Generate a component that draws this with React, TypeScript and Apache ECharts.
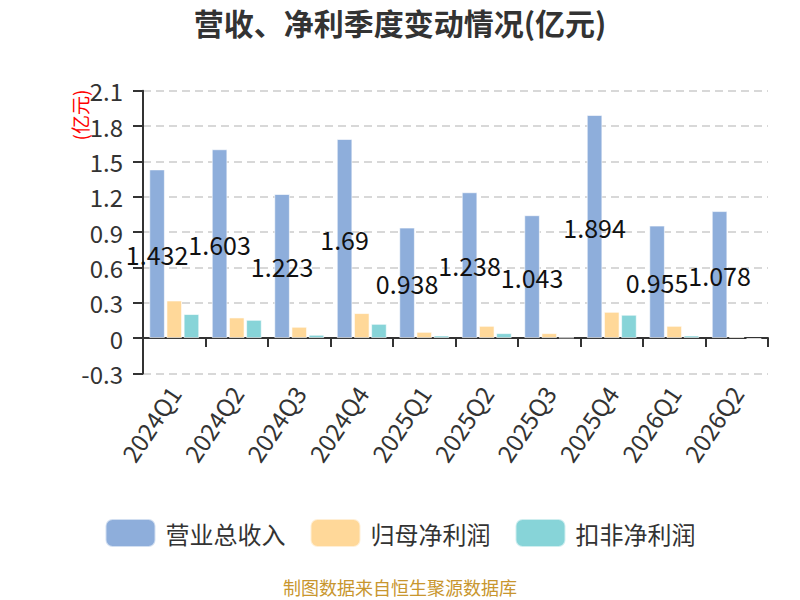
import React, { useEffect, useRef } from "react";
import * as echarts from "echarts";

const categories = ["2024Q1", "2024Q2", "2024Q3", "2024Q4", "2025Q1", "2025Q2", "2025Q3", "2025Q4", "2026Q1", "2026Q2"];
const revenue = [1.432, 1.603, 1.223, 1.69, 0.938, 1.238, 1.043, 1.894, 0.955, 1.078];
const netProfit = [0.319, 0.175, 0.096, 0.212, 0.053, 0.104, 0.042, 0.223, 0.104, 0.011];
const deductedProfit = [0.204, 0.155, 0.028, 0.121, 0.022, 0.042, 0.005, 0.198, 0.022, -0.008];
const seriesNames = ["营业总收入", "归母净利润", "扣非净利润"];

const FONT = "'Noto Sans CJK SC', 'Noto Sans', sans-serif";

export default function App() {
  const ref = useRef<HTMLDivElement>(null);
  useEffect(() => {
    if (!ref.current) return;
    const chart = echarts.init(ref.current, undefined, { renderer: "svg" });
    const barStyle = (color: string) => ({
      color,
      borderColor: "rgba(255,255,255,0.6)",
      borderWidth: 1,
    });
    chart.setOption({
      animation: false,
      backgroundColor: "#fff",
      textStyle: { fontFamily: FONT },
      title: {
        text: "营收、净利季度变动情况(亿元)",
        left: "center",
        top: 5,
        padding: 2,
        textStyle: { fontSize: 30, fontWeight: "bold", color: "#333", fontFamily: FONT },
      },
      legend: {
        data: seriesNames,
        left: "center",
        top: 513,
        itemWidth: 50,
        itemHeight: 28,
        itemGap: 24,
        icon: "roundRect",
        textStyle: { fontSize: 24, color: "#333", fontFamily: FONT, padding: [0, 0, 0, 5] },
      },
      grid: { left: 143, right: 32, top: 90.7, bottom: 226.6, containLabel: false },
      xAxis: {
        type: "category",
        data: categories,
        axisLine: { onZero: true, lineStyle: { color: "#333", width: 2 } },
        axisTick: { show: true, length: 9, lineStyle: { color: "#333", width: 2 } },
        axisLabel: { rotate: 56, margin: 15, fontSize: 24, color: "#333", fontFamily: FONT },
      },
      yAxis: {
        type: "value",
        min: -0.3,
        max: 2.1,
        interval: 0.3,
        axisLine: { show: true, lineStyle: { color: "#333", width: 2 } },
        axisTick: { show: true, length: 10, lineStyle: { color: "#333", width: 2 } },
        axisLabel: { fontSize: 24, color: "#333", margin: 20, fontFamily: FONT },
        splitLine: { show: true, lineStyle: { color: "#ccc", width: 1.5, type: [8, 5] } },
      },
      graphic: [
        {
          type: "text",
          x: 79,
          y: 115,
          rotation: Math.PI / 2,
          style: {
            text: "(亿元)",
            fill: "#ff0000",
            fontSize: 19,
            fontFamily: FONT,
            textAlign: "center",
            textVerticalAlign: "middle",
          },
        },
      ],
      series: [
        {
          name: seriesNames[0],
          type: "bar",
          data: revenue,
          barCategoryGap: "20%",
          barGap: "10%",
          itemStyle: barStyle("#8eaedb"),
          label: {
            show: true,
            position: "inside",
            fontSize: 25,
            color: "#111",
            fontFamily: FONT,
          },
        },
        {
          name: seriesNames[1],
          type: "bar",
          data: netProfit,
          barCategoryGap: "20%",
          barGap: "10%",
          itemStyle: barStyle("#ffd899"),
        },
        {
          name: seriesNames[2],
          type: "bar",
          data: deductedProfit,
          barCategoryGap: "20%",
          barGap: "10%",
          itemStyle: barStyle("#87d4d8"),
        },
      ],
    });
    return () => chart.dispose();
  }, []);
  return (
    <div style={{ position: "fixed", left: 0, top: 0, width: 800, height: 600, background: "#fff" }}>
      <div ref={ref} style={{ width: 800, height: 600 }} />
      <div
        style={{
          position: "absolute",
          left: 0,
          width: 800,
          top: 578,
          textAlign: "center",
          fontSize: 18,
          color: "#c8962e",
          fontFamily: FONT,
          lineHeight: "18px",
        }}
      >
        制图数据来自恒生聚源数据库
      </div>
    </div>
  );
}
